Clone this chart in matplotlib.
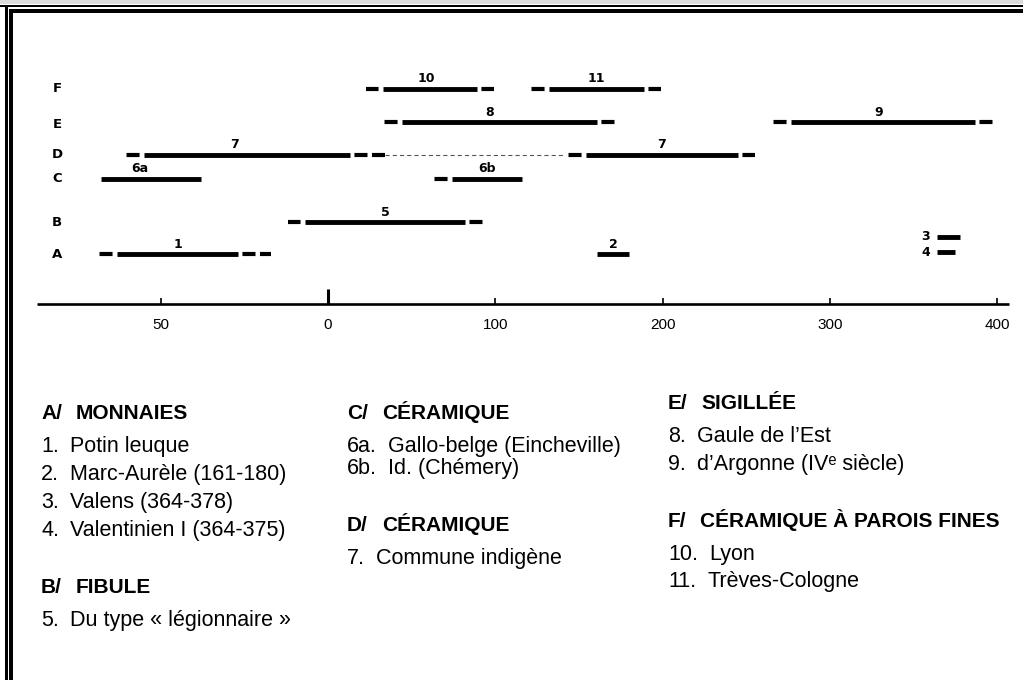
import numpy as np
import matplotlib.pyplot as plt
from matplotlib.patches import Rectangle

plt.rcParams['lines.scale_dashes'] = False

# --- chronology bars (years; negative = BC) ---
bar_ids = ["10", "11", "8", "9", "7", "7", "6a", "6b", "5", "1", "2", "3", "4"]
bar_rows = ["F", "F", "E", "E", "D", "D", "C", "C", "B", "A", "A", "A", "A"]
dash_lo = [23, 121, 33, 266, -61, 143, None, 62, -12, -69, None, None, None]
solid_lo = [33, 132, 44, 277, -55, 154, -68, 74, -7, -63, 161, 364, 364]
solid_hi = [89, 189, 161, 387, 13, 245, -38, 116, 82, -27, 180, 378, 375]
dash_hi = [99, 199, 172, 398, 34, 255, None, None, 93, -17, None, None, None]

# thin dotted continuation of the D row (7)
link_d = (34, 141)

row_names = ["F", "E", "D", "C", "B", "A"]
tick_years = [-50, 0, 100, 200, 300, 400]
tick_labels = ["50", "0", "100", "200", "300", "400"]
axis_span = (-87, 407)

# --- key below the chart ---
headings = [("A/", "MONNAIES"), ("B/", "FIBULE"), ("C/", "CÉRAMIQUE"),
            ("D/", "CÉRAMIQUE"), ("E/", "SIGILLÉE"),
            ("F/", "CÉRAMIQUE À PAROIS FINES")]
items = {
    "A/": [("1.", "Potin leuque"), ("2.", "Marc-Aurèle (161-180)"),
           ("3.", "Valens (364-378)"), ("4.", "Valentinien I (364-375)")],
    "B/": [("5.", "Du type « légionnaire »")],
    "C/": [("6a.", "Gallo-belge (Eincheville)"), ("6b.", "Id. (Chémery)")],
    "D/": [("7.", "Commune indigène")],
    "E/": [("8.", "Gaule de l’Est"), ("9.", "d’Argonne (IVᵉ siècle)")],
    "F/": [("10.", "Lyon"), ("11.", "Trèves-Cologne")],
}

# layout (pixels)
W, H = 1023, 680
row_y = {"F": 89, "E": 122, "D": 155, "C": 179, "B": 222, "A": 254}
letter_shift = {"E": 3}
stack_shift = {"3": -17, "4": -2}
label_nudge = {0: -4, 2: -10, 3: -5, 4: -12, 6: -11}
axis_y = 304
heading_pos = {"A/": (41, 423), "B/": (41, 597), "C/": (347, 423),
               "D/": (347, 535), "E/": (668, 413), "F/": (668, 531)}
line_step = {"A/": 28, "B/": 28, "C/": 22, "D/": 28, "E/": 28, "F/": 27}


def fwd(x):
    x = np.asarray(x, dtype=float)
    return np.where(x < 0, 2 * x, x)


def inv(u):
    u = np.asarray(u, dtype=float)
    return np.where(u < 0, u / 2, u)


fig = plt.figure(figsize=(W / 100, H / 100), dpi=100)
fig.patch.set_facecolor("white")

page = fig.add_axes([0, 0, 1, 1])
page.set_xlim(0, W)
page.set_ylim(H, 0)
page.axis("off")

ax = fig.add_axes([0, 0, 1, 1])
ax.set_xscale("function", functions=(fwd, inv))
ax.set_xlim(-98.05, 415.5)
ax.set_ylim(H, 0)
ax.axis("off")

# double frame
page.add_patch(Rectangle((0, 0), W, 4, color="#dcdcdc", lw=0))
page.add_patch(Rectangle((0, 4.5), W, 2.8, color="black", lw=0))
page.add_patch(Rectangle((9, 9), W - 9, 4, color="black", lw=0))
page.add_patch(Rectangle((5.3, 4.5), 2.2, H, color="black", lw=0))
page.add_patch(Rectangle((9, 9), 3.6, H, color="black", lw=0))

# row letters
for r in row_names:
    page.text(57, row_y[r] + letter_shift.get(r, 0), r, ha="center",
              va="center", fontsize=9.5, fontweight="bold",
              family="DejaVu Sans")

# time axis
ax.plot(axis_span, [axis_y, axis_y], color="black", lw=1.9,
        solid_capstyle="butt")
for yr, lab in zip(tick_years, tick_labels):
    big = yr == 0
    ax.plot([yr, yr], [axis_y, axis_y - (15 if big else 6)], color="black",
            lw=2.2 if big else 1.2, solid_capstyle="butt")
    ax.text(yr, axis_y + 21, lab, ha="center", va="center", fontsize=11,
            family="Liberation Sans")

label_font = dict(fontsize=9, fontweight="bold",
                  family=["Liberation Sans Narrow", "DejaVu Sans"])
dash_len, gap_len = 9.4, 3.2

for i, (bid, row, d0, s0, s1, d1) in enumerate(zip(
        bar_ids, bar_rows, dash_lo, solid_lo, solid_hi, dash_hi)):
    y = row_y[row] + stack_shift.get(bid, 0)
    ax.plot([s0, s1], [y, y], color="black", lw=3.5, solid_capstyle="butt")
    # dashed extensions start with a gap next to the solid part
    if d0 is not None:
        ax.plot([s0, d0], [y, y], color="black", lw=3.0, dash_capstyle="butt",
                linestyle=(dash_len, (dash_len, gap_len)))
    if d1 is not None:
        ax.plot([s1, d1], [y, y], color="black", lw=3.0, dash_capstyle="butt",
                linestyle=(dash_len, (dash_len, gap_len)))
    if bid in stack_shift:
        ax.text(s0 - 4, y, bid, ha="right", va="center", **label_font)
    else:
        xm = float(inv((fwd(s0) + fwd(s1)) / 2))
        ax.annotate(bid, xy=(xm, y), xytext=(label_nudge.get(i, 0), 10),
                    textcoords="offset pixels", ha="center", va="center",
                    **label_font)

ax.plot(link_d, [row_y["D"], row_y["D"]], color="#555555", lw=0.8,
        linestyle=(0, (3.0, 2.2)))

# key
for pre, title in headings:
    x0, y0 = heading_pos[pre]
    t = page.text(x0, y0, pre, fontsize=15, fontweight="bold",
                  family="Liberation Sans", va="bottom")
    page.annotate(title, xy=(1, 0), xycoords=t, xytext=(10, 0),
                  textcoords="offset points", va="bottom", fontsize=15,
                  fontweight="bold", family="Liberation Sans")
    for k, (num, txt) in enumerate(items[pre]):
        yb = y0 + 34 + k * line_step[pre]
        n = page.text(x0, yb, num, fontsize=15.5, family="Liberation Sans",
                      va="bottom")
        page.annotate(txt, xy=(1, 0), xycoords=n, xytext=(8, 0),
                      textcoords="offset points", va="bottom", fontsize=15.5,
                      family=["Liberation Sans", "DejaVu Sans"])

fig.savefig("out.png", dpi=100)
